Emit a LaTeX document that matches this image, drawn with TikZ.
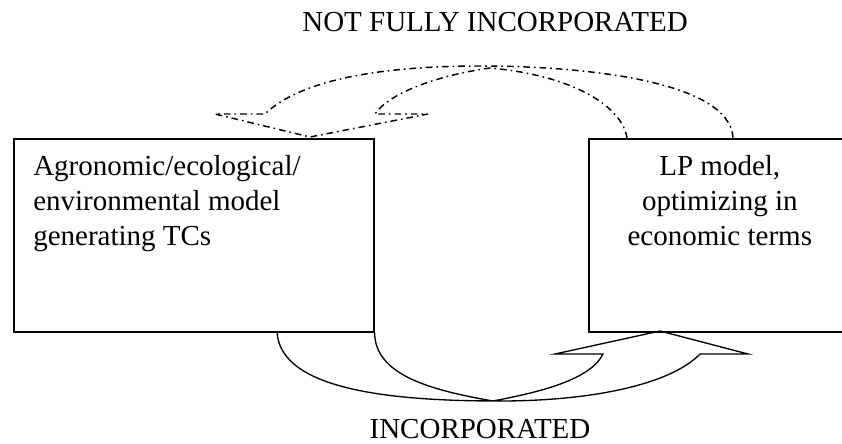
\documentclass[tikz,border=0pt]{standalone}
\usepackage{fontspec}
\setmainfont{Liberation Serif}
\usetikzlibrary{positioning}

\begin{document}
\begin{tikzpicture}
  [
    x=0.75pt,y=-0.75pt,
    every node/.style={font=\fontsize{21.75pt}{26.25pt}\selectfont,inner sep=0pt},
    model/.style={rectangle,draw=black,line width=1.2pt,anchor=north west,minimum height=144.75pt},
    incorporated/.style={line width=1pt,line join=miter},
    notfully/.style={line width=1.1pt,dash pattern=on 5pt off 3pt on 1.2pt off 3pt}
  ]
  \useasboundingbox (0,0) rectangle (842,443);
  \node[model,minimum width=270pt] (agro) at (13,138) {};
  \node[model,minimum width=196.5pt] (lp) at (588,138) {};
  \node[align=left] (agro text) [below right = 12.75pt and 15pt of agro.north west]
    {Agronomic/ecological/\\environmental model\\generating TCs};
  \node[align=center] (lp text) [below = 12.75pt of lp.north]
    {LP model,\\optimizing in\\economic terms};
  \node (not fully) at (495,22) {NOT FULLY INCORPORATED};
  \node (incorporated) at (480,429) {INCORPORATED};
  \coordinate (lp tip) at (660,331);
  \coordinate (agro tip) at (310,137);
  \draw[incorporated] (277,331) .. controls (279,392) and (400,401) .. (500,401)
    .. controls (590,401) and (670,385) .. (700,354) -- (748,354) -- (lp tip)
    -- (555,354) -- (603,354)
    .. controls (590,380) and (540,392) .. (493,401)
    .. controls (430,390) and (375,375) .. (agro.south east);
  \draw[notfully] (733,138) .. controls (730,80) and (580,66) .. (480,66)
    .. controls (380,66) and (300,80) .. (265,114) -- (215,114) -- (agro tip)
    -- (428,114) -- (375,114)
    .. controls (390,92) and (440,75) .. (490,68)
    .. controls (570,75) and (622,105) .. (627,138);
\end{tikzpicture}
\end{document}
